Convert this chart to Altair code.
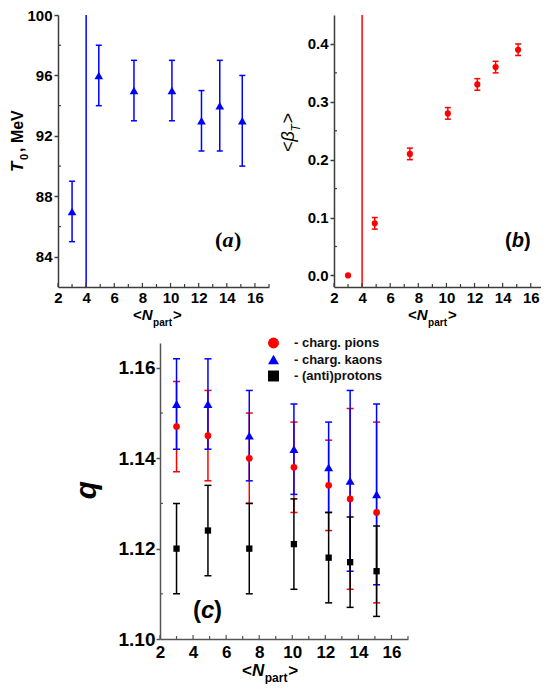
import altair as alt
import pandas as pd

# ---------------- data ----------------
npart = [3.0, 4.9, 7.4, 10.1, 12.2, 13.5, 15.1]

t0 = [87, 96, 95, 95, 93, 94, 93]
t0_err = [2, 2, 2, 2, 2, 3, 3]

beta_t = [0.0, 0.09, 0.21, 0.28, 0.33, 0.36, 0.39]
beta_t_err = [0.0, 0.01, 0.01, 0.01, 0.01, 0.01, 0.01]

species = ["charg. pions", "charg. kaons", "(anti)protons"]
q_pions = [1.147, 1.145, 1.140, 1.138, 1.134, 1.131, 1.128]
q_pions_err = [0.010, 0.010, 0.010, 0.010, 0.010, 0.020, 0.020]
q_kaons = [1.152, 1.152, 1.145, 1.142, 1.138, 1.135, 1.132]
q_kaons_err = [0.010, 0.010, 0.010, 0.010, 0.010, 0.020, 0.020]
q_protons = [1.120, 1.124, 1.120, 1.121, 1.118, 1.117, 1.115]
q_protons_err = [0.010, 0.010, 0.010, 0.010, 0.010, 0.010, 0.010]

threshold_npart = [4]

x_major = [2, 4, 6, 8, 10, 12, 14, 16]
x_minor = [3, 5, 7, 9, 11, 13, 15]
t0_ticks = [84, 88, 92, 96, 100]
t0_minor = [86, 90, 94, 98]
beta_ticks = [0.0, 0.1, 0.2, 0.3, 0.4]
beta_minor = [0.05, 0.15, 0.25, 0.35]
q_ticks = [1.10, 1.12, 1.14, 1.16]
q_minor = [1.11, 1.13, 1.15]

# ---------------- styling ----------------
FONT = "Liberation Sans"
SERIF = "Liberation Serif"
BLUE = "#0000ff"
RED = "#ff0000"
BLACK = "#000000"
AX = "#3c3c3c"
AXC = "#555555"


def err_df(x, y, e):
    return pd.DataFrame({"x": x, "y": y,
                         "lo": [a - b for a, b in zip(y, e)],
                         "hi": [a + b for a, b in zip(y, e)]})


def xaxis(size, pad, color):
    return alt.Axis(values=x_major, title=None, ticks=False, tickSize=0,
                    labelPadding=pad, labelFontSize=size, labelFlush=False,
                    labelOverlap=False, grid=False, domainColor=color, domainWidth=1.5)


def yaxis(vals, size, fmt, color, pad):
    return alt.Axis(values=vals, title=None, format=fmt, tickSize=4, tickWidth=1.5,
                    tickColor=color, labelPadding=pad, labelFontSize=size,
                    labelFlush=False, labelOverlap=False, grid=False,
                    domainColor=color, domainWidth=1.5)


class Panel:
    def __init__(self, xs, ys, xa, ya):
        self.xs, self.ys, self.xa, self.ya = xs, ys, xa, ya

    def X(self, f):
        return alt.X(f, scale=self.xs, axis=self.xa)

    def Y(self, f):
        return alt.Y(f, scale=self.ys, axis=self.ya)

    def bars(self, df, color, cap, width=1.5):
        r = alt.Chart(df).mark_rule(color=color, strokeWidth=width).encode(
            x=self.X("x:Q"), y=self.Y("lo:Q"), y2="hi:Q")
        c = alt.Chart(df).transform_fold(["lo", "hi"], as_=["end", "yv"]).mark_tick(
            orient="horizontal", size=cap, thickness=width, color=color, opacity=1).encode(
            x=self.X("x:Q"), y=self.Y("yv:Q"))
        return [r, c]

    def vline(self, vals, color):
        return alt.Chart(pd.DataFrame({"x": vals})).mark_rule(
            color=color, strokeWidth=1.5).encode(x=self.X("x:Q"))

    def y_in(self, vals, length, color):
        return alt.Chart(pd.DataFrame({"v": vals})).mark_rule(
            color=color, strokeWidth=1.2).encode(
            y=self.Y("v:Q"), x=alt.value(0), x2=alt.value(length))

    def x_in(self, vals, h, length, color):
        return alt.Chart(pd.DataFrame({"v": vals})).mark_rule(
            color=color, strokeWidth=1.2).encode(
            x=self.X("v:Q"), y=alt.value(h), y2=alt.value(h - length))


def txt(s, x, y, size, weight="bold", style="normal", angle=0, font=FONT,
        color="black", align="left", baseline="alphabetic"):
    return alt.Chart(pd.DataFrame({"t": [s]})).mark_text(
        align=align, baseline=baseline, angle=angle, fontSize=size,
        fontWeight=weight, fontStyle=style, font=font, color=color).encode(
        text="t:N", x=alt.value(x), y=alt.value(y))


def anchor(x, y):
    return alt.Chart(pd.DataFrame({"k": [0]})).mark_rule(
        strokeOpacity=0, strokeWidth=1).encode(
        x=alt.value(x), x2=alt.value(x + 1), y=alt.value(y), y2=alt.value(y))


def npart_title(x0, base, s_main, s_sub, dy):
    w_lt = 0.584 * s_main
    w_n = 0.722 * s_main
    w_part = 1.889 * s_sub
    return [
        txt("<", x0, base, s_main),
        txt("N", x0 + w_lt, base, s_main, style="italic"),
        txt("part", x0 + w_lt + w_n + 0.5, base + dy, s_sub),
        txt(">", x0 + w_lt + w_n + 1.5 + w_part, base, s_main),
    ]


# ---------------- panel (a) ----------------
WA, HA = 211, 272
pa = Panel(alt.Scale(domain=[2, 17], nice=False, zero=False),
           alt.Scale(domain=[82, 100], nice=False, zero=False),
           xaxis(15, 3, AX), yaxis(t0_ticks, 15, "d", AX, 2))
df_a = err_df(npart, t0, t0_err)
pts_a = alt.Chart(df_a).mark_point(shape="triangle-up", filled=True, size=75,
                                   color=BLUE, opacity=1).encode(
    x=pa.X("x:Q"), y=pa.Y("y:Q"))

layers_a = [pa.vline(threshold_npart, BLUE)] + pa.bars(df_a, BLUE, 6) + [
    pa.y_in(t0_minor, 3, AX),
    pa.x_in(x_major, HA, 4, AX),
    pa.x_in(x_minor + [17], HA, 3, AX),
    pts_a,
    txt("T", -35, 157, 17, style="italic", angle=270),
    txt("0", -30, 145, 11, angle=270),
    txt(", MeV", -35, 137, 16, angle=270),
    txt("(", 157, 232, 22, font=SERIF),
    txt("a", 164.5, 232, 22, style="italic", font=SERIF),
    txt(")", 176, 232, 22, font=SERIF),
    anchor(-50, -4), anchor(214, 318),
] + npart_title(75, 305, 15, 10, 6)
panel_a = alt.layer(*layers_a).properties(width=WA, height=HA)

# ---------------- panel (b) ----------------
WB, HB = 207, 272
pb = Panel(alt.Scale(domain=[2, 16.73], nice=False, zero=False),
           alt.Scale(domain=[-0.02, 0.45], nice=False, zero=False),
           xaxis(15, 3, AX), yaxis(beta_ticks, 15, ".1f", AX, 2))
df_b = err_df(npart, beta_t, beta_t_err)
pts_b = alt.Chart(df_b).mark_point(shape="circle", filled=True, size=38,
                                   color=RED, opacity=1).encode(
    x=pb.X("x:Q"), y=pb.Y("y:Q"))

layers_b = [pb.vline(threshold_npart, RED)] + pb.bars(df_b, RED, 6) + [
    pb.y_in(beta_minor, 3, AX),
    pb.x_in(x_major, HB, 4, AX),
    pb.x_in(x_minor, HB, 3, AX),
    pts_b,
    txt("<", -40, 137, 18, weight="normal", angle=270),
    txt("β", -40, 126.5, 18, weight="normal", style="italic", angle=270),
    txt("T", -34, 116.5, 12, weight="normal", style="italic", angle=270),
    txt(">", -40, 108.5, 18, weight="normal", angle=270),
    txt("(", 171, 232, 20),
    txt("b", 177.7, 232, 20, style="italic"),
    txt(")", 190, 232, 20),
    anchor(-56, -4),
] + npart_title(74, 305, 15, 10, 6)
panel_b = alt.layer(*layers_b).properties(width=WB, height=HB)

# ---------------- panel (c) ----------------
WC, HC = 248, 296
pc = Panel(alt.Scale(domain=[2, 17], nice=False, zero=False),
           alt.Scale(domain=[1.10, 1.1655], nice=False, zero=False),
           xaxis(17, 5, AXC), yaxis(q_ticks, 19, ".2f", AXC, 1))
df_pi = err_df(npart, q_pions, q_pions_err).assign(s=species[0])
df_k = err_df(npart, q_kaons, q_kaons_err).assign(s=species[1])
df_p = err_df(npart, q_protons, q_protons_err).assign(s=species[2])

legend_c = alt.Legend(orient="none", legendX=209, legendY=321.5, title=None,
                      direction="vertical", padding=0, symbolSize=120,
                      symbolStrokeWidth=0, symbolOpacity=1,
                      labelFont=FONT, labelFontSize=13,
                      labelFontWeight="bold", labelColor="#111111",
                      labelOffset=14, rowPadding=2.5,
                      labelExpr="'- ' + datum.label")
color_c = alt.Scale(domain=species, range=[RED, BLUE, BLACK])
shape_c = alt.Scale(domain=species, range=["circle", "triangle-up", "square"])


def pts_c(df, size):
    return alt.Chart(df).mark_point(filled=True, opacity=1, size=size).encode(
        x=pc.X("x:Q"), y=pc.Y("y:Q"),
        color=alt.Color("s:N", scale=color_c, legend=legend_c),
        shape=alt.Shape("s:N", scale=shape_c, legend=legend_c))


layers_c = (pc.bars(df_pi, RED, 7) + pc.bars(df_k, BLUE, 7) + pc.bars(df_p, BLACK, 7) + [
    pc.y_in(q_minor, 3, AXC),
    pc.x_in(x_major, HC, 4, AXC),
    pc.x_in(x_minor + [17], HC, 3, AXC),
    pts_c(df_pi, 45), pts_c(df_k, 81), pts_c(df_p, 40),
    txt("q", -64, 147, 30, style="italic", angle=270, align="center"),
    txt("(", 33, 275, 24),
    txt("c", 41, 275, 24, style="italic"),
    txt(")", 54, 275, 24),
    anchor(-100, -10),
] + npart_title(82, 333, 17, 12, 6))
panel_c = alt.layer(*layers_c).properties(width=WC, height=HC)

spacer = alt.layer(anchor(0, 0)).properties(width=1, height=1)

top = alt.hconcat(panel_a, panel_b, spacing=5)
bottom = alt.hconcat(spacer, panel_c, spacing=1)
chart = alt.vconcat(top, bottom, spacing=0, padding=0).configure_view(
    stroke=None).configure_axis(
    labelFont=FONT, labelFontWeight="bold", labelColor="black").configure_legend(
    labelFont=FONT)

chart.save("out.html", embed_options={"renderer": "svg", "actions": False})
